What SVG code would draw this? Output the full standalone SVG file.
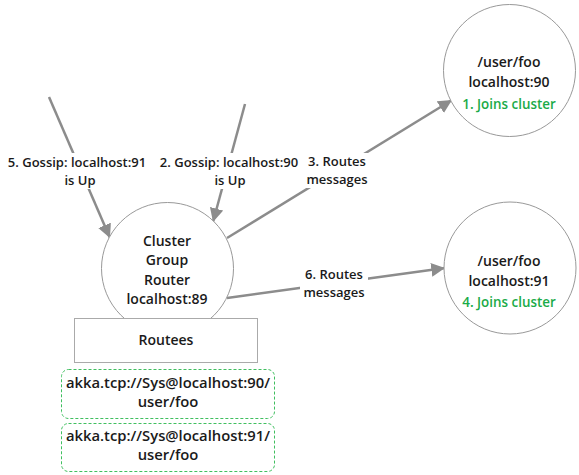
<svg xmlns="http://www.w3.org/2000/svg" width="579" height="475" viewBox="0 0 579 475">
<defs>
<style>
text{font-family:"Open Sans","Noto Sans","DejaVu Sans",sans-serif;font-weight:600;text-anchor:middle;fill:#1a1a1a}
.t{font-size:14px}
.r{font-size:14.8px}
.lbl{font-size:13px}
.g{font-size:13.4px;fill:#1aab48}
.node{fill:#fff;stroke:#999;stroke-width:1}
.edge{stroke:#8c8c8c;stroke-width:2.5;fill:none}
.bg{fill:#fff}
.dash{fill:#fff;stroke:#3fbf5f;stroke-width:1;stroke-dasharray:3 2}
</style>
<marker id="ah" viewBox="0 0 10 10" refX="10" refY="5" markerWidth="5.5" markerHeight="5.5" markerUnits="strokeWidth" orient="auto">
<path d="M0,0 L10,5 L0,10 z" fill="#8c8c8c"/>
</marker>
</defs>
<rect width="579" height="475" fill="#fff"/>
<g id="connectors">
<line class="edge" x1="49" y1="97" x2="110" y2="238" marker-end="url(#ah)"/>
<line class="edge" x1="245" y1="104" x2="213" y2="222" marker-end="url(#ah)"/>
<line class="edge" x1="227" y1="238" x2="452" y2="100" marker-end="url(#ah)"/>
<line class="edge" x1="227" y1="298" x2="445" y2="268" marker-end="url(#ah)"/>
<rect class="bg" x="5" y="153" width="144" height="36"/>
<rect class="bg" x="157" y="153" width="144" height="36"/>
<rect class="bg" x="304" y="153" width="66" height="35"/>
<rect class="bg" x="300" y="266" width="68" height="35"/>
<text class="lbl" x="77" y="167">5. Gossip: localhost:91</text>
<text class="lbl" x="80" y="184.5">is Up</text>
<text class="lbl" x="229" y="167">2. Gossip: localhost:90</text>
<text class="lbl" x="230" y="184.5">is Up</text>
<text class="lbl" x="337" y="166">3. Routes</text>
<text class="lbl" x="337" y="183.5">messages</text>
<text class="lbl" x="334" y="279">6. Routes</text>
<text class="lbl" x="334" y="296.5">messages</text>
</g>
<g id="router">
<circle class="node" cx="167.5" cy="268.5" r="66"/>
<text class="t" x="167" y="246">Cluster</text>
<text class="t" x="167" y="265">Group</text>
<text class="t" x="167" y="285">Router</text>
<text class="t" x="167" y="304">localhost:89</text>
</g>
<g id="node90">
<circle class="node" cx="509.5" cy="70.5" r="66"/>
<text class="t" x="509" y="67">/user/foo</text>
<text class="t" x="509" y="87">localhost:90</text>
<text class="g" x="509" y="109">1. Joins cluster</text>
</g>
<g id="node91">
<circle class="node" cx="510" cy="268" r="66"/>
<text class="t" x="509" y="266">/user/foo</text>
<text class="t" x="509" y="286">localhost:91</text>
<text class="g" x="509" y="307">4. Joins cluster</text>
</g>
<g id="routees">
<rect x="74.5" y="318.5" width="183" height="44" fill="#fff" stroke="#aaa" stroke-width="1"/>
<text class="t" x="166" y="345">Routees</text>
</g>
<g id="routee90">
<rect class="dash" x="61.5" y="369.5" width="213" height="49" rx="7"/>
<text class="r" x="168" y="388">akka.tcp://Sys@localhost:90/</text>
<text class="r" x="168" y="407">user/foo</text>
</g>
<g id="routee91">
<rect class="dash" x="61.5" y="423.5" width="213" height="48" rx="7"/>
<text class="r" x="168" y="441">akka.tcp://Sys@localhost:91/</text>
<text class="r" x="168" y="460">user/foo</text>
</g>
</svg>
